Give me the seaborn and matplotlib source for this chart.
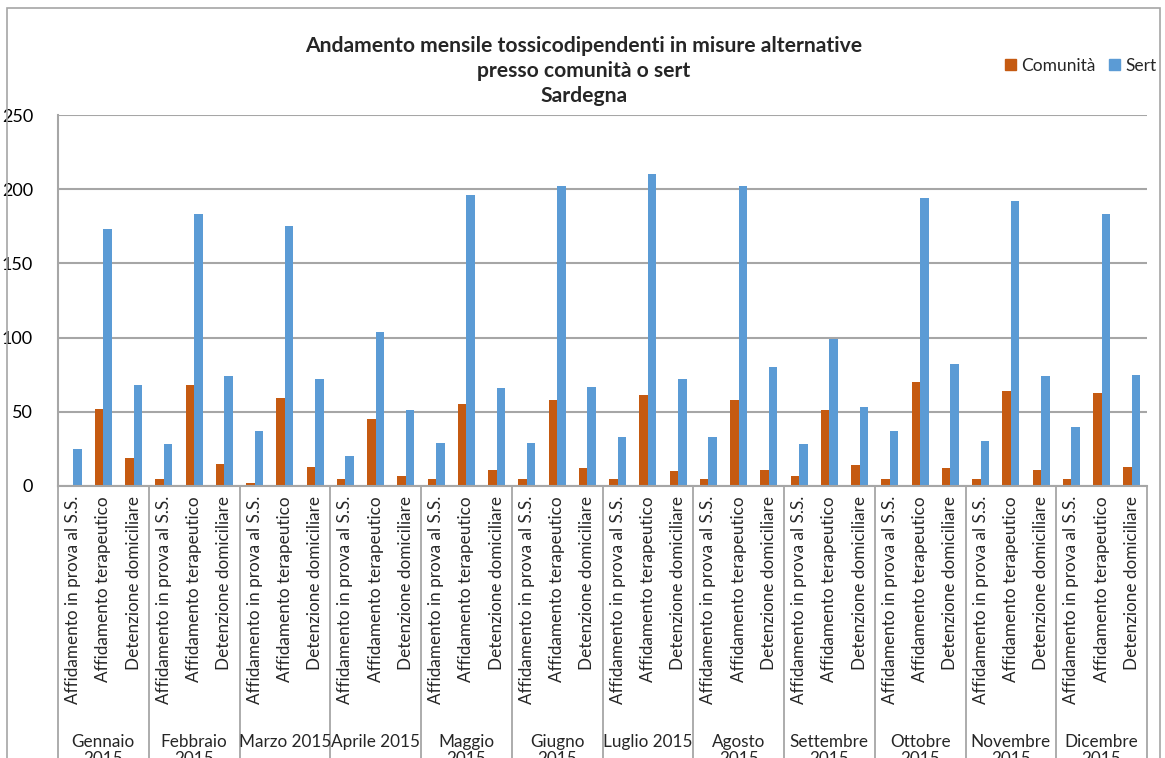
import matplotlib
matplotlib.use("Agg")
import matplotlib.pyplot as plt
import matplotlib.patches as mpatches
from matplotlib.transforms import blended_transform_factory
import seaborn as sns
import pandas as pd

months = ["Gennaio\n2015", "Febbraio\n2015", "Marzo 2015", "Aprile 2015", "Maggio\n2015",
          "Giugno\n2015", "Luglio 2015", "Agosto\n2015", "Settembre\n2015", "Ottobre\n2015",
          "Novembre\n2015", "Dicembre\n2015"]
measures = ["Affidamento in prova al S.S.", "Affidamento terapeutico", "Detenzione domiciliare"]
series = ["Comunità", "Sert"]

comunita = [1, 52, 19, 5, 68, 15, 2, 59, 13, 5, 45, 7,
            5, 55, 11, 5, 58, 12, 5, 61, 10, 5, 58, 11,
            7, 51, 14, 5, 70, 12, 5, 64, 11, 5, 63, 13]
sert = [25, 173, 68, 28, 183, 74, 37, 175, 72, 20, 104, 51,
        29, 196, 66, 29, 202, 67, 33, 210, 72, 33, 202, 80,
        28, 99, 53, 37, 194, 82, 30, 192, 74, 40, 183, 75]

title = "Andamento mensile tossicodipendenti in misure alternative\npresso comunità o sert\nSardegna"
yticks = [0, 50, 100, 150, 200, 250]

colors = {"Comunità": "#C55A11", "Sert": "#5B9BD5"}

n = len(months) * len(measures)
rows = []
for i in range(n):
    rows.append({"pos": i, "serie": "Comunità", "val": comunita[i]})
    rows.append({"pos": i, "serie": "Sert", "val": sert[i]})
df = pd.DataFrame(rows)

sns.set_theme(style="white")
plt.rcParams["font.family"] = ["Lato", "DejaVu Sans"]

W, H = 1165, 758
fig = plt.figure(figsize=(W / 100, H / 100), dpi=100)
L, R, T, B = 58, 1147, 115, 486
ax = fig.add_axes([L / W, (H - B) / H, (R - L) / W, (B - T) / H])

sns.barplot(data=df, x="pos", y="val", hue="serie", hue_order=series, palette=colors,
            width=0.56, saturation=1, ax=ax, legend=False, linewidth=0)

ax.set_xlim(-0.5, n - 0.5)
ax.set_ylim(0, 250)
ax.set_yticks(yticks)
ax.set_yticklabels([str(v) for v in yticks], fontsize=13, color="#000000")
ax.tick_params(axis="y", length=0, pad=18)
ax.yaxis.grid(True, color="#A6A6A6", linewidth=1.5)
ax.set_axisbelow(True)
ax.set_xlabel("")
ax.set_ylabel("")
ax.set_xticks([])
for s in ["top", "right"]:
    ax.spines[s].set_visible(False)
ax.spines["left"].set_color("#A6A6A6")
ax.spines["left"].set_linewidth(1.5)
ax.spines["bottom"].set_color("#A6A6A6")
ax.spines["bottom"].set_linewidth(1.5)

trans = blended_transform_factory(ax.transData, ax.transAxes)
axh = (B - T)
# category labels (rotated)
for i in range(n):
    ax.text(i, -10 / axh, measures[i % 3], rotation=90, ha="center", va="top",
            fontsize=12.3, transform=trans, clip_on=False)
# month labels
for m, lab in enumerate(months):
    ax.text(m * 3 + 1, -248 / axh, lab, ha="center", va="top", fontsize=12.3,
            transform=trans, clip_on=False, linespacing=1.1)
# separators
for m in range(len(months) + 1):
    x = m * 3 - 0.5
    ax.plot([x, x], [0, -(H - B + 5) / axh], color="#A6A6A6", linewidth=1.3,
            transform=trans, clip_on=False)

# title
fig.text(584 / W, 1 - 71 / H, title, ha="center", va="center", fontsize=15.2,
         fontweight="bold", linespacing=1.3)

# legend
handles = [mpatches.Patch(color=colors[s], label=s) for s in series]
fig.legend(handles=handles, loc="center right", bbox_to_anchor=(1163 / W, 1 - 66 / H),
           ncol=2, frameon=False, fontsize=12.5, handlelength=0.6, handleheight=0.6,
           handletextpad=0.3, columnspacing=0.8, borderaxespad=0)

# outer chart border
fig.patches.append(mpatches.Rectangle((7 / W, -0.05), (1160 - 7) / W, 1 - 8 / H + 0.05,
                                      transform=fig.transFigure, fill=False,
                                      edgecolor="#A6A6A6", linewidth=1.2))

fig.savefig("out.png", dpi=100)
